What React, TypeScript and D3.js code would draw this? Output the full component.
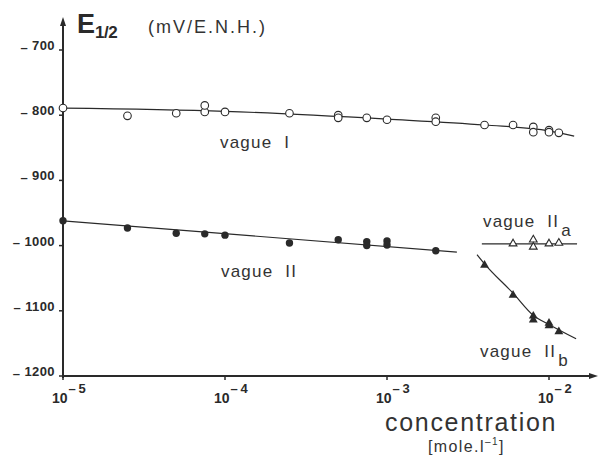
import React, { useRef, useEffect } from "react";
import * as d3 from "d3";

const W = 599;
const H = 457;
const INK = "#2a2a2a";
const FONT = "'Liberation Sans', Arial, sans-serif";

// vague I (open circles)
const CONC_I = [1e-5, 2.5e-5, 5e-5, 7.5e-5, 7.5e-5, 1e-4, 2.5e-4, 5e-4, 5e-4, 7.5e-4, 1e-3, 2e-3, 2e-3, 4e-3, 6e-3, 8e-3, 8e-3, 1e-2, 1e-2, 1.15e-2];
const E_I = [-789, -801, -797, -795, -785, -795, -797, -800, -804, -804, -807, -804, -810, -815, -815, -818, -826, -823, -826, -827];
const FIT_I_C = [1e-5, 1e-4, 1e-3, 4e-3, 1e-2, 1.43e-2];
const FIT_I_E = [-789, -794, -806, -815, -824, -832];

// vague II (filled circles)
const CONC_II = [1e-5, 2.5e-5, 5e-5, 7.5e-5, 1e-4, 2.5e-4, 5e-4, 7.5e-4, 7.5e-4, 1e-3, 1e-3, 2e-3];
const E_II = [-962, -973, -981, -982, -984, -996, -991, -994, -1000, -993, -999, -1008];
const FIT_II_C = [1e-5, 2.7e-3];
const FIT_II_E = [-962, -1010];

// vague IIa (open triangles)
const CONC_IIA = [6e-3, 8e-3, 8e-3, 1e-2, 1.15e-2];
const E_IIA = [-997, -991, -1002, -997, -996];
const FIT_IIA_C = [3.85e-3, 1.49e-2];
const FIT_IIA_E = [-997.5, -997.5];

// vague IIb (filled triangles)
const CONC_IIB = [4e-3, 6e-3, 8e-3, 8e-3, 1e-2, 1e-2, 1.15e-2];
const E_IIB = [-1030, -1076, -1108, -1114, -1119, -1123, -1132];
const FIT_IIB_C = [3.6e-3, 4e-3, 6e-3, 8e-3, 1e-2, 1.47e-2];
const FIT_IIB_E = [-1014, -1028, -1073, -1107, -1121, -1143];

const Y_TICKS = [-700, -800, -900, -1000, -1100, -1200];
const X_TICKS = [1e-5, 1e-4, 1e-3, 1e-2];
const X_EXP = ["5", "4", "3", "2"];

export default function App() {
  const ref = useRef<SVGSVGElement | null>(null);

  useEffect(() => {
    if (!ref.current) return;
    const svg = d3.select(ref.current);
    svg.selectAll("*").remove();

    const x = d3.scaleLog().domain([1e-5, 1e-2]).range([63, 549]);
    const y = d3.scaleLinear().domain([-1200, -700]).range([376, 50]);
    const x0 = x(1e-5);
    const y0 = y(-1200);

    // axes
    svg.append("line").attr("x1", x0).attr("x2", x0).attr("y1", y0 + 2).attr("y2", 24)
      .attr("stroke", INK).attr("stroke-width", 2);
    svg.append("path").attr("d", `M${x0},17 L${x0 - 3},26 L${x0 + 3},26 Z`).attr("fill", INK);
    svg.append("line").attr("x1", x0 - 1).attr("x2", 591).attr("y1", y0).attr("y2", y0)
      .attr("stroke", INK).attr("stroke-width", 2);
    svg.append("path").attr("d", `M598,${y0} L589,${y0 - 3} L589,${y0 + 3} Z`).attr("fill", INK);

    // y ticks
    const yt = svg.append("g");
    Y_TICKS.forEach((t) => {
      yt.append("line").attr("x1", x0 - 4).attr("x2", x0).attr("y1", y(t)).attr("y2", y(t))
        .attr("stroke", INK).attr("stroke-width", 1.5);
      const tx = yt.append("text").attr("x", 55).attr("y", y(t))
        .attr("text-anchor", "end").attr("font-family", FONT).attr("font-weight", "bold")
        .attr("font-size", 13).attr("letter-spacing", 0.4).attr("fill", INK);
      tx.append("tspan").attr("dy", 1.5).text("\u2013 ");
      tx.append("tspan").attr("dy", -1.5).text(String(Math.abs(t)));
    });

    // x ticks
    const xt = svg.append("g");
    X_TICKS.forEach((t, i) => {
      xt.append("line").attr("x1", x(t)).attr("x2", x(t)).attr("y1", y0).attr("y2", y0 + 4)
        .attr("stroke", INK).attr("stroke-width", 1.5);
      const tx = xt.append("text").attr("x", x(t) - 11).attr("y", 403)
        .attr("font-family", FONT).attr("font-weight", "bold").attr("fill", INK);
      tx.append("tspan").attr("font-size", 14).text("10");
      tx.append("tspan").attr("font-size", 13).attr("dy", -10).attr("dx", 1).text("\u2013\u2009" + X_EXP[i]);
    });

    // fit lines
    const line = d3.line<[number, number]>().x((d) => x(d[0])).y((d) => y(d[1])).curve(d3.curveMonotoneX);
    const fits: [number[], number[]][] = [
      [FIT_I_C, FIT_I_E],
      [FIT_II_C, FIT_II_E],
      [FIT_IIA_C, FIT_IIA_E],
      [FIT_IIB_C, FIT_IIB_E],
    ];
    fits.forEach(([cs, es]) => {
      svg.append("path").attr("d", line(cs.map((c, i) => [c, es[i]]) as [number, number][]))
        .attr("fill", "none").attr("stroke", INK).attr("stroke-width", 1.2);
    });

    // markers
    const pts = (cs: number[], es: number[]) => cs.map((c, i) => ({ c, e: es[i] }));
    svg.append("g").selectAll("circle").data(pts(CONC_I, E_I)).enter().append("circle")
      .attr("cx", (d) => x(d.c)).attr("cy", (d) => y(d.e)).attr("r", 3.8)
      .attr("fill", "#fff").attr("stroke", INK).attr("stroke-width", 1.1);
    svg.append("g").selectAll("circle").data(pts(CONC_II, E_II)).enter().append("circle")
      .attr("cx", (d) => x(d.c)).attr("cy", (d) => y(d.e)).attr("r", 3.7)
      .attr("fill", INK);
    const tri = d3.symbol().type(d3.symbolTriangle);
    svg.append("g").selectAll("path").data(pts(CONC_IIA, E_IIA)).enter().append("path")
      .attr("d", tri.size(26)()).attr("transform", (d) => `translate(${x(d.c)},${y(d.e)})`)
      .attr("fill", "#fff").attr("stroke", INK).attr("stroke-width", 1.1);
    svg.append("g").selectAll("path").data(pts(CONC_IIB, E_IIB)).enter().append("path")
      .attr("d", tri.size(34)()).attr("transform", (d) => `translate(${x(d.c)},${y(d.e)})`)
      .attr("fill", INK);

    // title
    const title = svg.append("text").attr("x", 77).attr("y", 33).attr("font-family", FONT)
      .attr("font-weight", "bold").attr("fill", INK);
    title.append("tspan").attr("font-size", 27).text("E");
    title.append("tspan").attr("font-size", 17).attr("dy", 5).attr("letter-spacing", -0.5).text("1/2");
    svg.append("text").attr("x", 148).attr("y", 33).attr("font-family", FONT).attr("font-size", 18)
      .attr("letter-spacing", 2).attr("fill", "#333").text("(mV/E.N.H.)");

    // series labels
    const label = (lx: number, ly: number, roman: string, sub?: string) => {
      const t = svg.append("text").attr("x", lx).attr("y", ly).attr("font-family", FONT)
        .attr("font-size", 17).attr("letter-spacing", 1.2).attr("fill", "#333");
      t.append("tspan").text("vague");
      t.append("tspan").attr("dx", 12).text(roman);
      if (sub) t.append("tspan").attr("dx", 2).attr("dy", 9).text(sub);
    };
    label(220, 148, "I");
    label(221, 277, "II");
    label(483, 227, "II", "a");
    label(480, 357, "II", "b");

    // x axis title
    svg.append("text").attr("x", 385).attr("y", 431).attr("font-family", FONT).attr("font-size", 25)
      .attr("letter-spacing", 1.7).attr("fill", "#333").text("concentration");
    const unit = svg.append("text").attr("x", 428).attr("y", 452).attr("font-family", FONT)
      .attr("font-size", 16).attr("letter-spacing", 1.4).attr("fill", "#333");
    unit.append("tspan").text("[mole.l");
    unit.append("tspan").attr("font-size", 10).attr("dy", -7).text("\u2013" + "1");
    unit.append("tspan").attr("dy", 7).text("]");
  }, []);

  return (
    <>
      <style>{"body{margin:0}"}</style>
      <svg ref={ref} width={W} height={H} style={{ display: "block", background: "#fff" }} />
    </>
  );
}
